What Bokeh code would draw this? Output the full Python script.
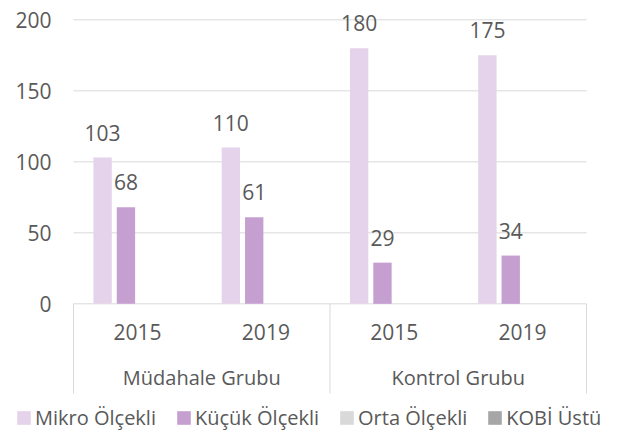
from bokeh.plotting import figure
from bokeh.models import ColumnDataSource, Range1d, Legend, LegendItem
from bokeh.transform import dodge
from bokeh.core.properties import value
from bokeh.embed import file_html
from bokeh.resources import INLINE

# ---- data ----
groups = ["Müdahale Grubu", "Müdahale Grubu", "Kontrol Grubu", "Kontrol Grubu"]
years = ["2015", "2019", "2015", "2019"]
series_names = ["Mikro Ölçekli", "Küçük Ölçekli", "Orta Ölçekli", "KOBİ Üstü"]
mikro = [103, 110, 180, 175]
kucuk = [68, 61, 29, 34]
orta = [None, None, None, None]
kobi_ustu = [None, None, None, None]
y_ticks = [0, 50, 100, 150, 200]

# ---- styles ----
colors = ["#e4d3ea", "#c59fd0", "#d9d9d9", "#a6a6a6"]
TEXT = "#595959"
FONT = "Open Sans"
GRID = "#d9d9d9"
FS_NUM = "21px"
FS_TXT = "20px"

# category positions (one unit per category) derived from the category list
n = len(years)
xpos = [i + 0.5 for i in range(n)]
uniq_groups = list(dict.fromkeys(groups))
g_members = {g: [xpos[i] for i in range(n) if groups[i] == g] for g in uniq_groups}
g_center = [sum(v) / len(v) for v in g_members.values()]
bounds = sorted({b for v in g_members.values() for b in (min(v) - 0.5, max(v) + 0.5)})

src = ColumnDataSource(dict(
    x=xpos,
    mikro=mikro, kucuk=kucuk, orta=orta, kobi=kobi_ustu,
    mikro_lbl=[str(v) for v in mikro],
    kucuk_lbl=[str(v) for v in kucuk],
))

Y_MAX = 213.6
Y_MIN = -89.9
X_MIN = -0.569
X_MAX = n + 0.140
BOX_BOTTOM = -63.2

p = figure(width=604, height=431, x_range=Range1d(X_MIN, X_MAX), y_range=Range1d(Y_MIN, Y_MAX),
           output_backend="svg", toolbar_location=None,
           x_axis_location=None, y_axis_location=None,
           min_border_left=0, min_border_right=0, min_border_top=0, min_border_bottom=0)
p.outline_line_color = None
p.grid.visible = False

# horizontal gridlines at the tick values
p.segment(x0=0, y0="y", x1=n, y1="y", source=ColumnDataSource(dict(y=y_ticks)),
          line_color=GRID, line_width=1)
# y tick labels
p.text(x=0, y="y", text="t", source=ColumnDataSource(dict(y=y_ticks, t=[str(t) for t in y_ticks])),
       x_offset=-22, text_align="right", text_baseline="middle",
       text_font=value(FONT), text_font_size=FS_NUM, text_color=TEXT)

offsets = [-0.273, -0.091, 0.091, 0.273]
cols = ["mikro", "kucuk", "orta", "kobi"]
BW = 0.143
renderers = []
for off, col, c in zip(offsets, cols, colors):
    r = p.vbar(x=dodge("x", off), top=col, width=BW, source=src,
               fill_color=c, line_color=None)
    renderers.append(r)

for off, col in zip(offsets[:2], ["mikro", "kucuk"]):
    p.text(x=dodge("x", off), y=col, text=col + "_lbl", source=src,
           text_align="center", text_baseline="middle", y_offset=-25,
           text_font=value(FONT), text_font_size=FS_NUM, text_color=TEXT)

# category labels (years)
p.text(x="x", y=0, text="y", source=ColumnDataSource(dict(x=xpos, y=years)),
       text_align="center", text_baseline="middle", y_offset=28,
       text_font=value(FONT), text_font_size=FS_NUM, text_color=TEXT)
# group labels
p.text(x="x", y=0, text="g", source=ColumnDataSource(dict(x=g_center, g=uniq_groups)),
       text_align="center", text_baseline="middle", y_offset=74,
       text_font=value(FONT), text_font_size=FS_TXT, text_color=TEXT)

# separator lines of the category box
p.segment(x0="x", y0=0, x1="x", y1=BOX_BOTTOM, source=ColumnDataSource(dict(x=bounds)),
          line_color=GRID, line_width=1)

legend = Legend(items=[LegendItem(label=nm, renderers=[r]) for nm, r in zip(series_names, renderers)],
                orientation="horizontal", location=(15, 0),
                glyph_width=17, glyph_height=17, label_standoff=3, spacing=19,
                padding=0, margin=0, border_line_color=None, background_fill_alpha=0,
                label_text_font=FONT, label_text_font_size=FS_TXT, label_text_color=TEXT)
p.add_layout(legend, "center")

open("out.html", "w").write(file_html(p, INLINE))
